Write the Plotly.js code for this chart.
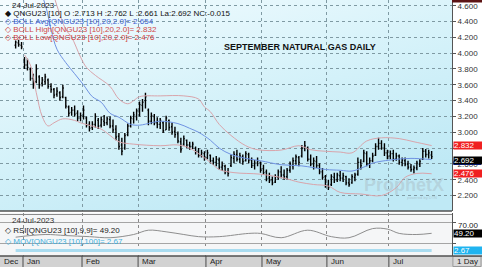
<!DOCTYPE html>
<html><head><meta charset="utf-8">
<script src="https://cdn.plot.ly/plotly-3.0.1.min.js"></script>
<style>html,body{margin:0;padding:0;background:#fff}#chart{width:482px;height:267px}</style>
</head><body><div id="chart"></div>
<script>
// ---- data ----
const monthNames = ['Dec','Jan','Feb','Mar','Apr','May','Jun','Jul'];
const monthBars  = [3,20,19,23,19,22,21,15];

const opens = [4.10,4.13,4.10,3.92,3.85,3.80,3.68,3.64,3.70,3.62,3.64,3.66,3.58,3.54,3.48,3.50,3.45,3.44,3.32,3.25,
3.28,3.24,3.18,3.20,3.18,3.10,3.06,3.10,3.15,3.09,3.14,3.12,3.16,3.08,3.04,2.95,2.84,2.80,2.97,3.08,
3.17,3.20,3.26,3.34,3.40,3.28,3.14,3.20,3.12,3.10,3.12,3.03,3.15,3.07,3.01,2.98,2.88,2.85,2.90,2.84,
2.82,2.80,2.76,2.71,2.73,2.68,2.71,2.64,2.62,2.65,2.56,2.57,2.50,2.58,2.67,2.72,2.66,2.69,2.64,2.72,
2.65,2.58,2.61,2.62,2.54,2.50,2.42,2.40,2.37,2.43,2.50,2.46,2.44,2.52,2.58,2.64,2.68,2.70,2.80,2.80,
2.66,2.60,2.63,2.58,2.50,2.44,2.33,2.34,2.43,2.40,2.45,2.42,2.44,2.36,2.36,2.43,2.47,2.62,2.63,2.73,
2.60,2.64,2.71,2.82,2.86,2.80,2.74,2.70,2.73,2.66,2.70,2.62,2.64,2.60,2.56,2.53,2.55,2.60,2.66,2.76,
2.72,2.713];
const highs = [4.16,4.17,4.14,3.95,3.93,3.82,3.74,3.86,3.72,3.70,3.74,3.68,3.62,3.56,3.57,3.52,3.60,3.45,3.34,3.32,
3.34,3.28,3.25,3.34,3.20,3.14,3.14,3.24,3.18,3.20,3.22,3.20,3.20,3.16,3.09,2.99,2.93,2.99,3.11,3.21,
3.26,3.30,3.39,3.42,3.50,3.30,3.25,3.23,3.19,3.18,3.14,3.21,3.16,3.12,3.07,3.01,2.93,2.96,2.91,2.88,
2.88,2.82,2.80,2.78,2.76,2.78,2.72,2.68,2.70,2.68,2.63,2.59,2.55,2.72,2.76,2.78,2.74,2.72,2.76,2.74,
2.68,2.65,2.68,2.63,2.59,2.53,2.49,2.44,2.47,2.53,2.57,2.53,2.55,2.63,2.68,2.72,2.70,2.84,2.89,2.82,
2.72,2.68,2.70,2.61,2.55,2.46,2.40,2.47,2.49,2.49,2.51,2.49,2.45,2.42,2.47,2.49,2.68,2.66,2.78,2.76,
2.68,2.74,2.86,2.93,2.90,2.86,2.78,2.77,2.78,2.74,2.72,2.68,2.68,2.64,2.60,2.58,2.64,2.66,2.80,2.79,
2.78,2.762];
const lows = [4.06,4.08,4.05,3.80,3.78,3.65,3.55,3.62,3.55,3.58,3.60,3.55,3.50,3.43,3.45,3.40,3.43,3.30,3.20,3.21,
3.20,3.14,3.14,3.16,3.06,3.01,3.03,3.06,3.04,3.06,3.08,3.09,3.05,2.99,2.90,2.78,2.71,2.78,2.95,3.06,
3.11,3.15,3.20,3.26,3.30,3.09,3.10,3.09,3.05,3.04,2.99,3.03,3.02,2.97,2.93,2.86,2.74,2.83,2.80,2.78,
2.79,2.72,2.68,2.68,2.64,2.66,2.61,2.59,2.57,2.53,2.51,2.47,2.44,2.56,2.61,2.63,2.61,2.59,2.63,2.61,
2.55,2.53,2.57,2.49,2.46,2.38,2.36,2.33,2.36,2.40,2.42,2.40,2.40,2.49,2.53,2.59,2.57,2.68,2.76,2.63,
2.57,2.53,2.55,2.47,2.40,2.30,2.27,2.32,2.36,2.37,2.38,2.37,2.33,2.31,2.35,2.38,2.45,2.53,2.62,2.57,
2.55,2.62,2.70,2.78,2.78,2.70,2.66,2.66,2.63,2.64,2.59,2.57,2.57,2.53,2.50,2.48,2.52,2.56,2.65,2.68,
2.67,2.661];
const closes = [4.14,4.11,4.08,3.85,3.82,3.68,3.60,3.80,3.60,3.66,3.70,3.58,3.54,3.47,3.52,3.44,3.56,3.33,3.24,3.28,
3.23,3.18,3.21,3.28,3.09,3.05,3.10,3.20,3.08,3.16,3.12,3.17,3.08,3.03,2.94,2.82,2.76,2.96,3.08,3.18,
3.22,3.27,3.35,3.38,3.45,3.14,3.21,3.12,3.10,3.15,3.02,3.18,3.06,3.00,2.97,2.89,2.78,2.92,2.84,2.82,
2.85,2.75,2.71,2.74,2.67,2.74,2.64,2.62,2.66,2.56,2.58,2.50,2.48,2.68,2.72,2.66,2.70,2.63,2.73,2.65,
2.58,2.61,2.64,2.52,2.49,2.41,2.39,2.36,2.44,2.50,2.46,2.44,2.52,2.60,2.64,2.69,2.62,2.80,2.83,2.66,
2.60,2.64,2.58,2.50,2.43,2.33,2.30,2.44,2.40,2.46,2.42,2.45,2.36,2.34,2.44,2.46,2.62,2.58,2.74,2.60,
2.64,2.70,2.82,2.86,2.80,2.74,2.70,2.73,2.66,2.70,2.62,2.65,2.60,2.56,2.53,2.55,2.61,2.63,2.76,2.72,
2.74,2.692];

const bollAvgIdx = [5,10,12,14,17,20,23,26,29,32,35,39,42,46,49,55,59,62,66,69,73,78,83,90,97,105,110,114,118,121,127,134,141];
const bollAvg    = [5.10,4.62,4.30,4.05,3.88,3.74,3.60,3.45,3.38,3.24,3.19,3.10,3.09,3.12,3.14,3.11,3.05,3.00,2.90,2.80,2.72,2.67,2.64,2.59,2.575,2.53,2.52,2.51,2.56,2.61,2.65,2.67,2.654];
const bollHighIdx = [10,14,17,19,22,24,27,32,35,38,40,42,49,57,62,64,66,69,73,78,82,90,96,100,105,110,114,119,124,130,135,141];
const bollHigh    = [5.1,4.60,4.30,4.20,3.95,3.82,3.72,3.58,3.42,3.36,3.40,3.45,3.46,3.46,3.42,3.32,3.26,3.10,2.96,2.83,2.78,2.775,2.83,2.78,2.76,2.75,2.74,2.89,2.93,2.92,2.88,2.832];
const bollLowIdx = [3,5,7,9,11,13,16,20,22,29,32,35,40,49,55,59,62,66,69,74,83,91,96,101,106,110,117,124,129,132,136,141];
const bollLow    = [3.98,3.85,3.50,3.20,3.08,3.12,3.17,3.15,3.12,3.04,2.96,2.88,2.85,2.83,2.84,2.80,2.73,2.62,2.53,2.49,2.47,2.42,2.37,2.34,2.32,2.24,2.22,2.20,2.30,2.43,2.48,2.476];

const rsiIdx = [0,10,17,25,32,40,45,51,57,62,69,79,83,90,99,107,113,121,126,130,136,141];
const rsiVal = [42,47,45,43,41,47,55,52,47,43,43,49,49,41,55,43,41,58,57,49,47,49.2];
const movIdx = [0,141];
const movVal = [2.67,2.67];

const priceTicks = [2.2,2.4,2.6,2.8,3.0,3.2,3.4,3.6,3.8,4.0,4.2,4.4,4.6];
const last = {avg:2.654, high:2.832, low:2.476, close:2.692, rsi:49.2, mov:2.67};

// ---- derived ----
const idx = closes.map((_, i) => i);
const bounds = []; let acc = 0;
monthBars.forEach((n, k) => { if (k > 0) bounds.push(acc - 0.5); acc += n; });
const xr = [-5.3, 147.9];
const labelPos = [xr[0]].concat(bounds);
// the 2.800 label sits fully under the BOLL High value box in the reference
const priceTickText = priceTicks.map(v => Math.abs(v - 2.8) < 1e-9 ? '' : v.toFixed(3));

const W = 452, H = 256;
const px = x => x / W, py = y => (H - y) / H;
const FONT = 'Liberation Sans, Arial, sans-serif';

const svg = '<svg xmlns="http://www.w3.org/2000/svg" width="452" height="211" preserveAspectRatio="none"><defs><linearGradient id="g" x1="0" y1="0" x2="0.6" y2="1"><stop offset="0" stop-color="#f5fcff"/><stop offset="0.5" stop-color="#d8f3fa"/><stop offset="1" stop-color="#bfe9f5"/></linearGradient></defs><rect width="452" height="211" fill="url(#g)"/></svg>';
const bgURI = 'data:image/svg+xml;charset=utf-8,' + encodeURIComponent(svg);

const traces = [
  {type:'scatter', mode:'lines', x:bollHighIdx, y:bollHigh, line:{color:'#d9a4ab', width:1, shape:'spline'}, hoverinfo:'skip', xaxis:'x', yaxis:'y'},
  {type:'scatter', mode:'lines', x:bollLowIdx, y:bollLow, line:{color:'#d9a4ab', width:1, shape:'spline'}, hoverinfo:'skip', xaxis:'x', yaxis:'y'},
  {type:'scatter', mode:'lines', x:bollAvgIdx, y:bollAvg, line:{color:'#6f92e2', width:1, shape:'spline'}, hoverinfo:'skip', xaxis:'x', yaxis:'y'},
  {type:'ohlc', x:idx, open:opens, high:highs, low:lows, close:closes,
   increasing:{line:{color:'#000', width:1.4}}, decreasing:{line:{color:'#000', width:1.4}},
   tickwidth:0.35, hoverinfo:'skip', xaxis:'x', yaxis:'y'},
  {type:'scatter', mode:'lines', x:movIdx, y:movVal, line:{color:'#a9dcf0', width:3}, hoverinfo:'skip', xaxis:'x2', yaxis:'y3'},
  {type:'scatter', mode:'lines', x:rsiIdx, y:rsiVal, line:{color:'#8e8e8e', width:1, shape:'spline'}, hoverinfo:'skip', xaxis:'x2', yaxis:'y2'}
];

const mainBottom = py(211), rsiTop = py(213);
const shapes = [
  {type:'rect', xref:'paper', yref:'paper', x0:0, x1:1, y0:0, y1:rsiTop, fillcolor:'#f5f6f7', line:{width:0}, layer:'below'},
  {type:'rect', xref:'paper', yref:'paper', x0:0, x1:482/W, y0:-11/H, y1:0, fillcolor:'#d2d2d2', line:{width:0}},
  {type:'rect', xref:'paper', yref:'paper', x0:1.002, x1:481/W, y0:-10.5/H, y1:-0.5/H, fillcolor:'#d8d8d8', line:{color:'#9a9a9a', width:1}},
  {type:'line', xref:'paper', yref:'paper', x0:0, x1:1, y0:mainBottom, y1:mainBottom, line:{color:'#505050', width:1.5}},
  {type:'line', xref:'paper', yref:'paper', x0:0, x1:1, y0:py(214.5), y1:py(214.5), line:{color:'#8a8a8a', width:1}},
  {type:'line', xref:'paper', yref:'paper', x0:0, x1:482/W, y0:0, y1:0, line:{color:'#505050', width:1.5}},
  {type:'rect', xref:'paper', yref:'paper', x0:1, x1:482/W, y0:py(2.5), y1:1, fillcolor:'#5c1414', line:{width:0}},
  // blue BOLL Avg marker strip, mostly hidden under the close box as in the reference
  {type:'rect', xref:'paper', yref:'y', x0:1.003, x1:481/W, y0:2.586, y1:2.64, fillcolor:'#1030d0', line:{width:0}}
];
bounds.forEach(b => shapes.push({type:'line', xref:'x', yref:'paper', x0:b, x1:b, y0:-11/H, y1:0, line:{color:'#4a4a4a', width:1}}));

const ann = [];
monthNames.forEach((m, k) => ann.push({xref:'x', yref:'paper', x:labelPos[k], y:-5.5/H, xanchor:'left', yanchor:'middle', xshift:2, text:m, showarrow:false, font:{family:FONT, size:8, color:'#222'}}));
ann.push({xref:'paper', yref:'paper', x:467/W, y:-5.5/H, xanchor:'center', yanchor:'middle', text:'1 Day', showarrow:false, font:{family:FONT, size:8, color:'#222'}});

const L = (x, y, t, c, sz) => ann.push({xref:'paper', yref:'paper', x:px(x), y:py(y), xanchor:'left', yanchor:'middle', text:t, showarrow:false, font:{family:FONT, size:sz || 8, color:c}});
L(10, 5, '24-Jul-2023', '#222');
L(3, 13, '◆ QNGU23 [10] O :2.713 H :2.762 L :2.661 La:2.692 NC:-0.015', '#111');
L(3, 21, '◇ BOLL Avg[QNGU23 [10],20,2.0]= ' + last.avg.toFixed(3), '#3c5fd0');
L(3, 29, '◇ BOLL High[QNGU23 [10],20,2.0]= ' + last.high.toFixed(3), '#d04848');
L(3, 37, '◇ BOLL Low[QNGU23 [10],20,2.0]= ' + last.low.toFixed(3), '#d03c3c');
L(10, 220, '24-Jul-2023', '#333');
L(3, 230, '◇ RSI[QNGU23 [10],9,9]= ' + last.rsi.toFixed(2), '#222');
L(3, 241, '◇ MOV[QNGU23 [10],100]= ' + last.mov.toFixed(2), '#3fb0e0');
ann.push({xref:'paper', yref:'paper', x:px(300), y:py(46.5), xanchor:'center', yanchor:'middle', text:'<b>SEPTEMBER NATURAL GAS DAILY</b>', showarrow:false, font:{family:FONT, size:9, color:'#111'}});
ann.push({xref:'paper', yref:'paper', x:px(404), y:py(185), xanchor:'center', yanchor:'middle', text:'<b>ProphetX</b>', showarrow:false, font:{family:FONT, size:18, color:'rgba(160,172,180,0.35)'}});
ann.push({xref:'paper', yref:'paper', x:px(422), y:py(197), xanchor:'center', yanchor:'middle', text:'powered by DTN', showarrow:false, font:{family:FONT, size:4, color:'rgba(150,160,170,0.5)'}});

const box = (yref, yv, t, bg, fc, ys) => ann.push({xref:'paper', yref:yref, x:1, y:yv, xanchor:'left', yanchor:'middle', xshift:1, yshift:ys || 0, text:t, showarrow:false, bgcolor:bg, borderpad:0, width:28, height:7, align:'left', font:{family:FONT, size:8, color:fc}});
box('y', last.high, last.high.toFixed(3), '#f02020', '#fff');
box('y', last.close, last.close.toFixed(3), '#000', '#fff', -3.5);
box('y', last.low, last.low.toFixed(3), '#f02020', '#fff');
ann.push({xref:'paper', yref:'y2', x:1, y:70, xanchor:'left', yanchor:'middle', xshift:4, yshift:-3.5, text:'70.00', showarrow:false, font:{family:FONT, size:8, color:'#222'}});
box('y2', last.rsi, last.rsi.toFixed(2), '#000', '#fff');
box('y3', last.mov, last.mov.toFixed(2), '#20b4f0', '#fff');

const layout = {
  width:482, height:267, margin:{l:0, r:30, t:0, b:11, pad:0},
  paper_bgcolor:'#fff', plot_bgcolor:'rgba(0,0,0,0)', showlegend:false,
  font:{family:FONT, size:8, color:'#222'},
  xaxis:{domain:[0,1], range:xr, anchor:'y', tickvals:bounds, showticklabels:false, ticks:'', showgrid:true, gridcolor:'#7f9aa3', griddash:'dot', gridwidth:1, zeroline:false, rangeslider:{visible:false}, fixedrange:true},
  xaxis2:{domain:[0,1], range:xr, anchor:'y2', matches:'x', tickvals:bounds, showticklabels:false, ticks:'', showgrid:true, gridcolor:'#8a8a8a', griddash:'dot', gridwidth:1, zeroline:false, rangeslider:{visible:false}},
  yaxis:{domain:[mainBottom,1], range:[2.005,4.672], side:'right', tickvals:priceTicks, ticktext:priceTickText, ticks:'outside', ticklen:3, tickcolor:'#555', showline:true, linecolor:'#555', linewidth:1, showgrid:true, gridcolor:'#7f9aa3', griddash:'dot', gridwidth:1, zeroline:false, tickfont:{family:FONT, size:8, color:'#333'}},
  yaxis2:{domain:[0,rsiTop], range:[7,87], side:'right', tickvals:[30,70], showticklabels:false, ticks:'outside', ticklen:3, tickcolor:'#555', showline:true, linecolor:'#555', showgrid:true, gridcolor:'#a5a5a5', gridwidth:1, zeroline:false},
  yaxis3:{overlaying:'y2', range:[2.60,3.147], visible:false},
  images:[{source:bgURI, xref:'paper', yref:'paper', x:0, y:1, sizex:1, sizey:1-mainBottom, xanchor:'left', yanchor:'top', sizing:'stretch', layer:'below'}],
  shapes:shapes, annotations:ann
};
Plotly.newPlot('chart', traces, layout, {staticPlot:true, displayModeBar:false});
</script></body></html>
